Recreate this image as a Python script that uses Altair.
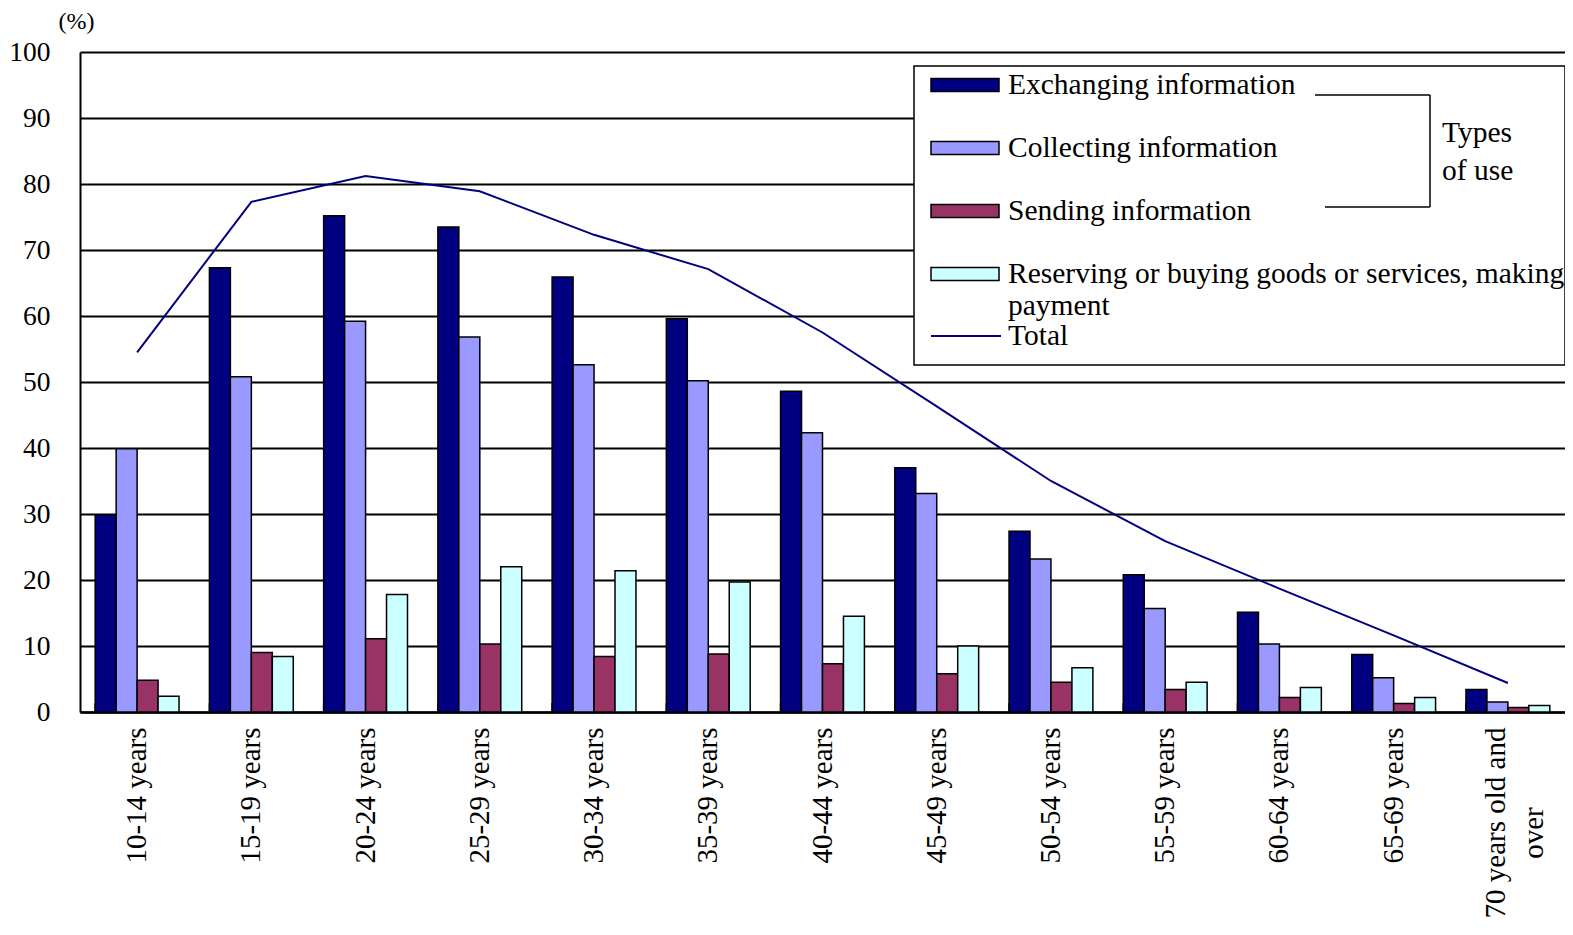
import altair as alt
import pandas as pd

ages = ["10-14 years", "15-19 years", "20-24 years", "25-29 years", "30-34 years",
        "35-39 years", "40-44 years", "45-49 years", "50-54 years", "55-59 years",
        "60-64 years", "65-69 years", "70 years old and over"]
series = ["Exchanging information", "Collecting information", "Sending information",
          "Reserving or buying goods or services, making payment"]
exchanging = [29.9, 67.3, 75.2, 73.5, 65.9, 59.6, 48.6, 37.0, 27.4, 20.8, 15.1, 8.7, 3.4]
collecting = [39.9, 50.8, 59.2, 56.8, 52.6, 50.2, 42.3, 33.1, 23.2, 15.7, 10.3, 5.2, 1.5]
sending = [4.8, 9.0, 11.1, 10.3, 8.4, 8.8, 7.3, 5.8, 4.5, 3.4, 2.2, 1.3, 0.7]
reserving = [2.4, 8.4, 17.8, 22.0, 21.4, 19.7, 14.5, 10.0, 6.7, 4.5, 3.7, 2.2, 1.0]
total = [54.5, 77.3, 81.2, 78.9, 72.3, 67.1, 57.5, 46.3, 35.0, 25.9, 18.7, 11.6, 4.4]
y_ticks = [0, 10, 20, 30, 40, 50, 60, 70, 80, 90, 100]
bar_colors = ["#000080", "#9999FF", "#993366", "#CCFFFF"]
line_color = "#000080"
bracket_label = ["Types", "of use"]

rows = []
for s, vals in zip(series, [exchanging, collecting, sending, reserving]):
    for a, v in zip(ages, vals):
        rows.append({"age": a, "series": s, "value": v})
bars_df = pd.DataFrame(rows)
line_df = pd.DataFrame({"age": ages, "value": total, "name": ["Total"] * len(ages)})
tick_df = pd.DataFrame({"age": ages})
one_df = pd.DataFrame({"k": [0]})

W, H = 1485, 660
FONT = "Liberation Serif"
NB = "\u00a0" * 11 + "\u200b"
LAST = ages[-1]

x_enc = alt.X(
    "age:N", sort=ages,
    scale=alt.Scale(paddingInner=0.266, paddingOuter=0.133),
    axis=alt.Axis(
        title=None, labelAngle=270, labelFont=FONT, labelFontSize=29,
        labelColor="black", labelPadding=15, ticks=False, domain=True,
        domainColor="black", domainWidth=2.5, labelLimit=400, labelLineHeight=38,
        labelOffset={"condition": {"test": "datum.value == '" + LAST + "'", "value": -12}, "value": 0},
        labelExpr="datum.label == '" + LAST + "' ? ['70 years old and', 'over" + NB + "'] : datum.label",
    ),
)
y_enc = alt.Y(
    "value:Q", scale=alt.Scale(domain=[0, 100]),
    axis=alt.Axis(
        values=y_ticks, title="(%)", titleAngle=0, titleX=-4, titleY=-31,
        titleAlign="center", titleBaseline="middle", titleFont=FONT,
        titleFontSize=24, titleFontWeight="normal", titleColor="black",
        labelFont=FONT, labelFontSize=27.5, labelPadding=30, labelColor="black",
        ticks=False, grid=True, gridColor="black", gridWidth=1.8, gridOpacity=1,
        domainColor="black", domainWidth=2,
    ),
)

bars = alt.Chart(bars_df).mark_bar(stroke="black", strokeWidth=1.5).encode(
    x=x_enc,
    xOffset=alt.XOffset("series:N", sort=series),
    y=y_enc,
    fill=alt.Fill(
        "series:N", sort=series,
        scale=alt.Scale(domain=series, range=bar_colors),
        legend=alt.Legend(
            title=None, orient="none", legendX=850, legendY=-2, padding=0,
            symbolType="M -1 -0.19 L 1 -0.19 L 1 0.19 L -1 0.19 Z",
            symbolSize=4624, symbolStrokeColor="black", symbolStrokeWidth=1.5,
            labelFont=FONT, labelFontSize=29.5, labelColor="black", labelLimit=900,
            labelOffset=8, rowPadding=13,
            labelExpr="datum.label == 'Reserving or buying goods or services, making payment' ? ['Reserving or buying goods or services, making', 'payment'] : datum.label",
        ),
    ),
)

line = alt.Chart(line_df).mark_line(strokeWidth=2).encode(
    x=alt.X("age:N", sort=ages),
    y=alt.Y("value:Q"),
    stroke=alt.Stroke(
        "name:N", scale=alt.Scale(domain=["Total"], range=[line_color]),
        legend=alt.Legend(
            title=None, orient="none", legendX=850, legendY=248, padding=0,
            symbolType="stroke", symbolSize=4900, symbolStrokeWidth=2,
            labelFont=FONT, labelFontSize=29.5, labelColor="black", labelOffset=6,
        ),
    ),
)

ticks = alt.Chart(tick_df).mark_rule(color="black", strokeWidth=1.5).encode(
    x=alt.X("age:N", sort=ages, bandPosition=0),
    y=alt.value(H - 9),
    y2=alt.value(H),
)

box = alt.Chart(one_df).mark_rect(fill="white", stroke="black", strokeWidth=1.5).encode(
    x=alt.value(834), x2=alt.value(1485), y=alt.value(14), y2=alt.value(313)
)

br_top = alt.Chart(one_df).mark_rule(color="black", strokeWidth=1.5).encode(
    x=alt.value(1235), x2=alt.value(1350), y=alt.value(43)
)
br_vert = alt.Chart(one_df).mark_rule(color="black", strokeWidth=1.5).encode(
    x=alt.value(1350), y=alt.value(43), y2=alt.value(155)
)
br_bot = alt.Chart(one_df).mark_rule(color="black", strokeWidth=1.5).encode(
    x=alt.value(1245), x2=alt.value(1350), y=alt.value(155)
)
txt1 = alt.Chart(one_df).mark_text(
    text=bracket_label[0], font=FONT, fontSize=29.5, align="left", baseline="middle", color="black"
).encode(x=alt.value(1362), y=alt.value(81))
txt2 = alt.Chart(one_df).mark_text(
    text=bracket_label[1], font=FONT, fontSize=29.5, align="left", baseline="middle", color="black"
).encode(x=alt.value(1362), y=alt.value(119))

chart = alt.layer(bars, line, ticks, box, br_top, br_vert, br_bot, txt1, txt2).properties(
    width=W, height=H,
    autosize=alt.AutoSizeParams(type="none"),
    padding={"left": 72, "top": 44, "right": 0, "bottom": 206},
    background="white",
).configure_view(stroke=None)

chart.save("out.html", embed_options={"renderer": "svg", "actions": False})
